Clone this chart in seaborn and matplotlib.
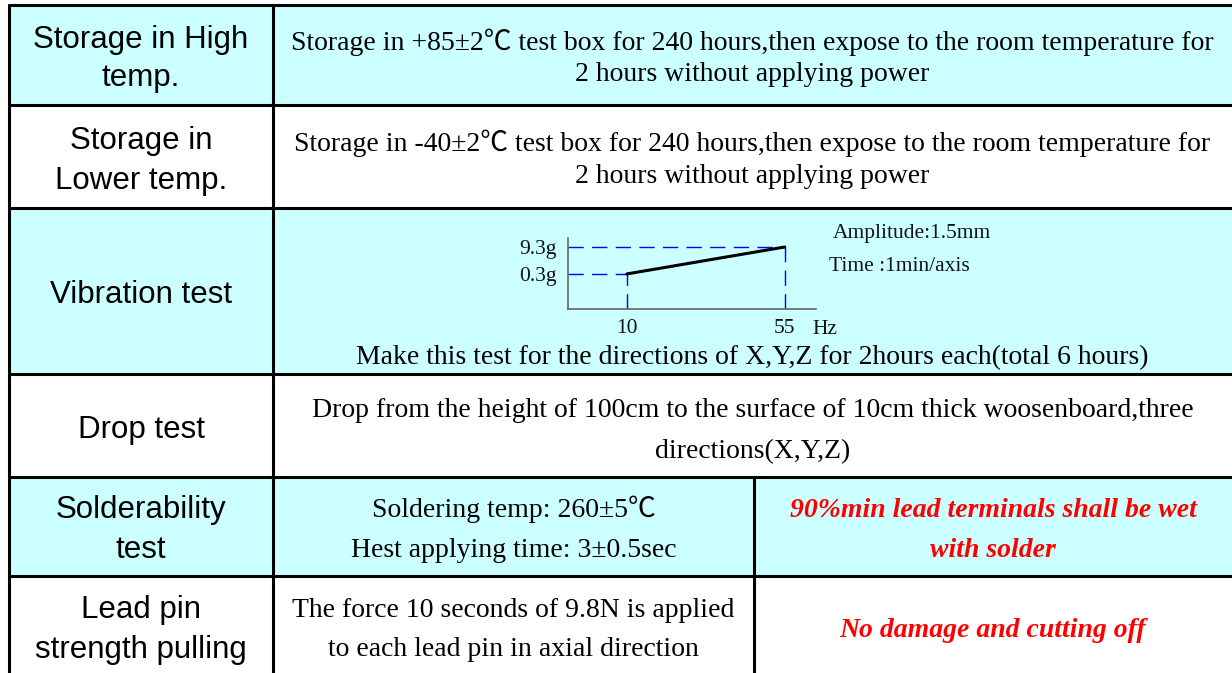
"""
Reliability test table with the vibration sweep sketch
"""

# ====================================================================================================================
# Imports
# ====================================================================================================================


import pandas as pd
import seaborn as sns
import matplotlib.pyplot as plt
from matplotlib.patches import Rectangle


# ====================================================================================================================
# Data
# ====================================================================================================================


test_items = [
    "Storage in High\ntemp.",
    "Storage in\nLower temp.",
    "Vibration test",
    "Drop test",
    "Solderability\ntest",
    "Lead pin\nstrength pulling",
]
test_conditions = [
    "Storage in +85\u00b12\u2103 test box for 240 hours,then expose to the room temperature for\n2 hours without applying power",
    "Storage in -40\u00b12\u2103 test box for 240 hours,then expose to the room temperature for\n2 hours without applying power",
    "Make this test for the directions of X,Y,Z for 2hours each(total 6 hours)",
    "Drop from the height of 100cm to the surface of 10cm thick woosenboard,three\ndirections(X,Y,Z)",
    "Soldering temp: 260\u00b15\u2103\nHest applying time: 3\u00b10.5sec",
    "The force 10 seconds of 9.8N is applied\nto each lead pin in axial direction",
]
test_results = [None, None, None, None,
                "90%min lead terminals shall be wet\nwith solder",
                "No damage and cutting off"]

sweep_freq_hz = [10, 55]
sweep_accel_g = [0.3, 9.3]
sweep_tick_labels = ["10", "55"]
accel_tick_labels = ["0.3g", "9.3g"]
sweep_notes = ["Amplitude:1.5mm", "Time :1min/axis"]


# ====================================================================================================================
# Layout (pixel units of the 1232x673 canvas)
# ====================================================================================================================


W, H = 1232, 673
row_edges = [5, 105, 208, 374, 477, 576, 690]
col_left, col_mid, col_split, col_right = 9, 273, 754, 1240
cyan = "#CCFFFF"

sns.set_style("white")
plt.rcParams["text.color"] = "black"
sans = ["Liberation Sans", "DejaVu Sans"]
serif = ["Liberation Serif", "Noto Sans CJK SC", "DejaVu Serif"]

# baselines of each text line
item_baselines = [[48, 86], [149, 189], [303], [438], [518, 558], [618, 658]]
cond_baselines = [[50, 81], [151, 183], [364], [417, 458], [517, 557], [617, 656]]
result_baselines = [None, None, None, None, [517, 557], [637]]

fig = plt.figure(figsize=(W / 100, H / 100), dpi=100)
ax = fig.add_axes([0, 0, 1, 1])
ax.set_xlim(0, W)
ax.set_ylim(H, 0)
ax.axis("off")

# row shading
for i in range(len(test_items)):
    if i % 2 == 0:
        ax.add_patch(Rectangle((col_left, row_edges[i]), col_right - col_left,
                               row_edges[i + 1] - row_edges[i], color=cyan, lw=0))

# grid lines
lw = 2.2
for y in row_edges[:-1]:
    ax.plot([col_left - 1.5, col_right], [y, y], color="black", lw=lw, solid_capstyle="butt")
ax.plot([col_left, col_left], [row_edges[0], H + 5], color="black", lw=lw)
ax.plot([col_mid, col_mid], [row_edges[0], H + 5], color="black", lw=lw)
ax.plot([col_split, col_split], [row_edges[4], H + 5], color="black", lw=lw)

# text cells
for i, item in enumerate(test_items):
    for line, y in zip(item.split("\n"), item_baselines[i]):
        ax.text((col_left + col_mid) / 2, y, line, ha="center", va="baseline",
                fontsize=22.5, family=sans, color="black")

    x_cond = (col_mid + col_right - 8) / 2 if test_results[i] is None else (col_mid + col_split) / 2
    for line, y in zip(test_conditions[i].split("\n"), cond_baselines[i]):
        ax.text(x_cond, y, line, ha="center", va="baseline", fontsize=20, family=serif, color="black")

    if test_results[i] is not None:
        for line, y in zip(test_results[i].split("\n"), result_baselines[i]):
            ax.text((col_split + col_right - 8) / 2, y, line, ha="center", va="baseline",
                    fontsize=20, family=serif, color="#FF0000",
                    fontweight="bold", fontstyle="italic")

# notes next to the sweep sketch
ax.text(833, 238, sweep_notes[0], ha="left", va="baseline", fontsize=15.5, family=serif, color="#111111")
ax.text(829, 271, sweep_notes[1], ha="left", va="baseline", fontsize=15.5, family=serif, color="#111111")


# ====================================================================================================================
# Vibration sweep sketch
# ====================================================================================================================


x_lo, x_hi = -6.75, 63.9
y_lo, y_hi = -11.4, 12.3
left_px, right_px, top_px, bottom_px = 568, 816, 238, 309
ins = fig.add_axes([left_px / W, 1 - bottom_px / H, (right_px - left_px) / W, (bottom_px - top_px) / H])
ins.patch.set_alpha(0)
ins.set_xlim(x_lo, x_hi)
ins.set_ylim(y_lo, y_hi)

sweep = pd.DataFrame({"freq": sweep_freq_hz, "accel": sweep_accel_g})
dash = dict(color="#0000FF", lw=1.0, dashes=(11, 6))
for f, a in zip(sweep_freq_hz, sweep_accel_g):
    ins.plot([x_lo, f], [a, a], **dash)
    ins.plot([f, f], [y_lo, a], **dash)
sns.lineplot(data=sweep, x="freq", y="accel", color="black", lw=2.2, ax=ins)

for side in ["top", "right"]:
    ins.spines[side].set_visible(False)
for side in ["left", "bottom"]:
    ins.spines[side].set_color("#666666")
    ins.spines[side].set_linewidth(1.2)

ins.set_xticks(sweep_freq_hz)
ins.set_xticklabels(sweep_tick_labels)
ins.set_yticks(sweep_accel_g)
ins.set_yticklabels(accel_tick_labels)
ins.tick_params(length=0, labelsize=15.5, colors="#111111")
ins.tick_params(axis="x", pad=7.5)
ins.tick_params(axis="y", pad=8)
for lab in ins.get_xticklabels() + ins.get_yticklabels():
    lab.set_family(serif)
ins.set_xlabel("")
ins.set_ylabel("")
ins.text(63.0, -19.6, "Hz", ha="left", va="baseline", fontsize=15.5, family=serif,
         color="#111111", clip_on=False)

fig.savefig("out.png", dpi=100)
